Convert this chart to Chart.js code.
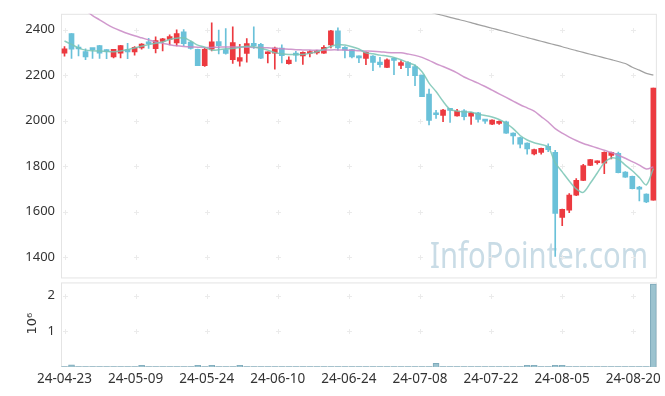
<!DOCTYPE html>
<html>
<head>
<meta charset="utf-8">
<script src="https://cdn.jsdelivr.net/npm/chart.js@4"></script>
<style>
  html, body { margin: 0; padding: 0; background: #fff; }
</style>
</head>
<body>
<canvas id="chart" width="665" height="396"></canvas>
<script>
// daily candles (oldest first)
const opens = [2297, 2383, 2320, 2304, 2314, 2330, 2308, 2280, 2297, 2312,
  2302, 2320, 2342, 2316, 2348, 2357, 2342, 2390, 2345, 2313,
  2242, 2314, 2347, 2312, 2268, 2262, 2296, 2340, 2335, 2294,
  2297, 2319, 2250, 2297, 2284, 2295, 2298, 2297, 2333, 2395,
  2322, 2312, 2283, 2274, 2284, 2257, 2234, 2274, 2243, 2255,
  2238, 2200, 2117, 2028, 2023, 2048, 2021, 2043, 2020, 2035,
  2003, 1985, 1988, 1995, 1945, 1926, 1901, 1854, 1861, 1887,
  1861, 1575, 1607, 1673, 1738, 1803, 1815, 1813, 1847, 1857,
  1774, 1755, 1703, 1677, 1651];
const highs = [2326, 2383, 2333, 2316, 2316, 2331, 2312, 2314, 2331, 2340,
  2326, 2339, 2362, 2368, 2362, 2377, 2399, 2400, 2350, 2315,
  2318, 2430, 2398, 2405, 2412, 2335, 2361, 2412, 2340, 2303,
  2323, 2333, 2280, 2305, 2302, 2308, 2309, 2330, 2397, 2408,
  2326, 2314, 2285, 2302, 2286, 2278, 2272, 2276, 2264, 2260,
  2245, 2200, 2139, 2045, 2050, 2050, 2050, 2049, 2037, 2037,
  2006, 2004, 1999, 1998, 1947, 1928, 1903, 1875, 1880, 1898,
  1870, 1612, 1680, 1745, 1808, 1830, 1824, 1863, 1862, 1862,
  1776, 1757, 1711, 1679, 2143];
const lows = [2283, 2273, 2285, 2268, 2273, 2273, 2272, 2276, 2276, 2272,
  2288, 2314, 2318, 2298, 2307, 2333, 2329, 2330, 2314, 2242,
  2238, 2307, 2293, 2292, 2252, 2240, 2257, 2317, 2272, 2254,
  2226, 2254, 2248, 2260, 2247, 2280, 2292, 2295, 2320, 2310,
  2276, 2276, 2255, 2246, 2220, 2235, 2233, 2202, 2228, 2198,
  2154, 2105, 1981, 2010, 1996, 1992, 2020, 2003, 1984, 1993,
  1988, 1982, 1983, 1944, 1897, 1880, 1853, 1849, 1853, 1864,
  1404, 1539, 1596, 1670, 1736, 1802, 1809, 1767, 1832, 1770,
  1751, 1700, 1647, 1640, 1651];
const closes = [2316, 2314, 2315, 2280, 2312, 2297, 2304, 2314, 2330, 2302,
  2322, 2336, 2338, 2352, 2360, 2370, 2383, 2338, 2318, 2242,
  2314, 2346, 2330, 2296, 2343, 2277, 2339, 2330, 2275, 2302,
  2319, 2286, 2266, 2288, 2300, 2304, 2307, 2322, 2395, 2320,
  2310, 2280, 2276, 2300, 2256, 2246, 2267, 2265, 2255, 2233,
  2198, 2106, 2001, 2026, 2046, 2045, 2042, 2018, 2035, 2006,
  1998, 2003, 1997, 1945, 1933, 1897, 1876, 1873, 1878, 1873,
  1593, 1610, 1673, 1738, 1803, 1829, 1819, 1861, 1861, 1771,
  1752, 1701, 1699, 1643, 2143];
// volume in millions of shares
const volumes = [0.01, 0.06, 0.01, 0.01, 0.01, 0.01, 0.01, 0.01, 0.01, 0.01,
  0.01, 0.05, 0.01, 0.01, 0.01, 0.01, 0.01, 0.01, 0.01, 0.05,
  0.01, 0.05, 0.01, 0.01, 0.01, 0.05, 0.01, 0.01, 0.01, 0.01,
  0.01, 0.01, 0.01, 0.01, 0.01, 0.01, 0.01, 0.01, 0.01, 0.01,
  0.01, 0.01, 0.01, 0.01, 0.01, 0.01, 0.01, 0.01, 0.01, 0.01,
  0.01, 0.01, 0.01, 0.1, 0.01, 0.01, 0.01, 0.01, 0.01, 0.01,
  0.01, 0.01, 0.01, 0.01, 0.01, 0.01, 0.05, 0.05, 0.01, 0.01,
  0.05, 0.05, 0.01, 0.01, 0.01, 0.01, 0.01, 0.01, 0.01, 0.01,
  0.01, 0.01, 0.01, 0.01, 2.33];
// moving averages as drawn in the reference
const ma5 = [2350, 2335, 2320, 2310, 2307, 2306, 2304, 2303, 2306, 2312,
  2319, 2327, 2335, 2340, 2346, 2357, 2362, 2364, 2350, 2332,
  2323, 2310, 2312, 2316, 2317, 2322, 2327, 2325, 2318, 2310,
  2299, 2294, 2291, 2291, 2291, 2296, 2303, 2314, 2326, 2335,
  2332, 2325, 2315, 2298, 2294, 2288, 2284, 2278, 2268, 2255,
  2243, 2215, 2165, 2128, 2085, 2050, 2042, 2038, 2038, 2028,
  2023, 2016, 2005, 1988, 1965, 1935, 1915, 1903, 1895, 1885,
  1815, 1775, 1735, 1700, 1685, 1725, 1770, 1815, 1836, 1830,
  1805, 1780, 1750, 1718, 1790];
const ma20 = [2545, 2525, 2505, 2485, 2462, 2443, 2424, 2408, 2395, 2383,
  2373, 2364, 2355, 2346, 2340, 2334, 2329, 2326, 2324, 2323,
  2321, 2322, 2323, 2324, 2324, 2324, 2323, 2322, 2321, 2320,
  2318, 2316, 2314, 2312, 2311, 2310, 2310, 2310, 2311, 2311,
  2310, 2309, 2307, 2306, 2305, 2303, 2300, 2298, 2298, 2293,
  2287, 2278, 2265, 2250, 2238, 2225, 2210, 2192, 2178, 2165,
  2150, 2134, 2118, 2102, 2086, 2070, 2056, 2042, 2018, 1994,
  1965, 1945, 1928, 1913, 1900, 1890, 1880, 1870, 1860, 1848,
  1835, 1820, 1805, 1788, 1797];
const ma60 = [null, null, null, null, null, null, null, null, null, null,
  null, null, null, null, null, null, null, null, null, null,
  null, null, null, null, null, null, null, null, null, null,
  null, null, null, null, null, null, null, null, null, null,
  null, null, null, null, null, null, null, null, null, null,
  2496, 2488, 2479, 2470, 2462, 2454, 2446, 2439, 2431, 2422,
  2414, 2406, 2398, 2390, 2382, 2373, 2365, 2357, 2349, 2341,
  2333, 2325, 2316, 2308, 2300, 2292, 2284, 2276, 2268, 2260,
  2251, 2235, 2222, 2208, 2200];
const tickLabels = ['24-04-23', '24-05-09', '24-05-24', '24-06-10', '24-06-24',
  '24-07-08', '24-07-22', '24-08-05', '24-08-20'];
const priceTicks = [1400, 1600, 1800, 2000, 2200, 2400];
const volumeTicks = [1, 2];

const UP = '#ec3a40';
const DOWN = '#6ac1d9';
const TICK_STEP = 10.14; // label spacing, in candles

const colors = closes.map((c, i) => c >= opens[i] ? UP : DOWN);
const xy = arr => arr.map((v, i) => ({ x: i, y: v }));
const tickFont = { family: '"Noto Sans"', size: 13 };

// crosses at grid points, pane borders and the watermark
const panes = {
  id: 'panes',
  beforeDatasetsDraw(chart) {
    const { ctx, chartArea, scales } = chart;
    const x = scales.x, y = scales.y, yv = scales.yv;
    ctx.save();
    ctx.fillStyle = '#c9dce6';
    ctx.font = '36px "Noto Sans"';
    ctx.textBaseline = 'alphabetic';
    ctx.fillText('InfoPointer.com', 430, 268, 218);

    ctx.strokeStyle = '#e4e4e4';
    ctx.lineWidth = 1;
    ctx.strokeRect(chartArea.left + 0.5, y.top + 0.5, chartArea.width - 1, y.height - 3);
    ctx.strokeRect(chartArea.left + 0.5, yv.top + 2.5, chartArea.width - 1, yv.height - 3);

    ctx.strokeStyle = '#ebebeb';
    const cross = (px, py) => {
      px = Math.round(px) + 0.5; py = Math.round(py) + 0.5;
      ctx.beginPath();
      ctx.moveTo(px - 2.5, py); ctx.lineTo(px + 2.5, py);
      ctx.moveTo(px, py - 2.5); ctx.lineTo(px, py + 2.5);
      ctx.stroke();
    };
    x.ticks.forEach(t => {
      const px = x.getPixelForValue(t.value);
      priceTicks.forEach(v => cross(px, y.getPixelForValue(v)));
      volumeTicks.forEach(v => cross(px, yv.getPixelForValue(v)));
    });
    ctx.restore();
  }
};

new Chart(document.getElementById('chart'), {
  type: 'bar',
  data: {
    datasets: [
      {
        type: 'line', data: xy(ma5), yAxisID: 'y', order: 0,
        borderColor: 'rgba(120, 196, 180, 0.85)', borderWidth: 1.5, pointRadius: 0, tension: 0.3
      },
      {
        type: 'line', data: xy(ma20), yAxisID: 'y', order: 0,
        borderColor: 'rgba(200, 135, 196, 0.85)', borderWidth: 1.5, pointRadius: 0, tension: 0.3
      },
      {
        type: 'line', data: xy(ma60), yAxisID: 'y', order: 0,
        borderColor: 'rgba(150, 150, 150, 0.9)', borderWidth: 1.2, pointRadius: 0, tension: 0.3
      },
      {
        label: 'wick', data: closes.map((_, i) => ({ x: i, y: [lows[i], highs[i]] })),
        yAxisID: 'y', order: 2, grouped: false, barThickness: 1,
        backgroundColor: colors, minBarLength: 1
      },
      {
        label: 'body', data: closes.map((c, i) => ({ x: i, y: [opens[i], c] })),
        yAxisID: 'y', order: 1, grouped: false, barThickness: 5,
        backgroundColor: colors, minBarLength: 2
      },
      {
        label: 'volume', data: xy(volumes), yAxisID: 'yv', order: 1, grouped: false,
        barThickness: 6, backgroundColor: '#9cc3cf', borderColor: '#7eaabb', borderWidth: 1
      }
    ]
  },
  options: {
    responsive: false,
    animation: false,
    devicePixelRatio: 1,
    layout: { padding: { top: 10, right: 8, left: 0, bottom: 0 } },
    plugins: { legend: { display: false }, tooltip: { enabled: false } },
    scales: {
      x: {
        type: 'linear', min: -0.5, max: 84.5, offset: false,
        grid: { display: false, drawTicks: false }, border: { display: false },
        afterBuildTicks: s => { s.ticks = tickLabels.map((_, k) => ({ value: k * TICK_STEP })); },
        afterFit: s => { s.height = 29; },
        ticks: {
          autoSkip: false, maxRotation: 0, padding: 4, color: '#333',
          font: { family: '"Noto Sans"', size: 13.5 },
          callback: (v, k) => tickLabels[k]
        }
      },
      yv: {
        type: 'linear', position: 'left', stack: 'panes', stackWeight: 87.5,
        min: 0, max: 2.43, offset: false,
        grid: { display: false, drawTicks: false }, border: { display: false },
        afterBuildTicks: s => { s.ticks = volumeTicks.map(v => ({ value: v })); },
        afterFit: s => { s.width = 61; },
        title: { display: true, text: '10⁶', color: '#333', font: { family: '"DejaVu Sans"', size: 13 }, padding: { top: 25, bottom: 0 } },
        ticks: { padding: 6, color: '#333', font: tickFont, callback: v => String(v) }
      },
      y: {
        type: 'linear', position: 'left', stack: 'panes', stackWeight: 269.5,
        min: 1298, max: 2469.6, offset: false,
        grid: { display: false, drawTicks: false }, border: { display: false },
        afterBuildTicks: s => { s.ticks = priceTicks.map(v => ({ value: v })); },
        afterFit: s => { s.width = 61; },
        ticks: { padding: 6, color: '#333', font: tickFont, callback: v => String(v) }
      }
    }
  },
  plugins: [panes]
});
</script>
</body>
</html>
